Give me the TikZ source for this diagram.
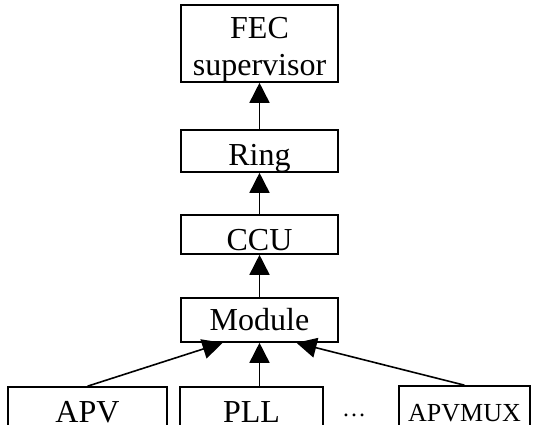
\documentclass[tikz,border=0pt]{standalone}
\usepackage{fontspec}
\setmainfont{Liberation Serif}
\usetikzlibrary{arrows.meta}

\begin{document}
\begin{tikzpicture}[x=1pt, y=-1pt,
    box/.style={draw=black, line width=1.6pt, inner sep=0pt, text depth=0pt, font=\fontsize{32}{33}\selectfont},
    up/.style={-{Triangle[length=20pt, width=20pt]}, line width=1.6pt}]
    \useasboundingbox (0, 0) rectangle (535, 425);
    \clip (0, 0) rectangle (535, 425);

    %Nodes
    \node[box, align=center, text depth=, minimum width=157pt, minimum height=77pt] at (259.5, 43.5) (fec) {\rule{0pt}{33pt}FEC\\[4pt]supervisor};
    \node[box, text height=28pt, minimum width=157pt, minimum height=42pt] at (259.5, 151) (ring) {Ring};
    \node[box, text height=31pt, minimum width=157pt, minimum height=39pt] at (259.5, 234.5) (ccu) {CCU};
    \node[box, text height=20pt, minimum width=157pt, minimum height=44pt] at (259.5, 320) (module) {Module};
    \node[box, text height=22pt, minimum width=159pt, minimum height=48pt] at (87.5, 411) (apv) {APV};
    \node[box, text height=22pt, minimum width=143pt, minimum height=48pt] at (251.5, 411) (pll) {PLL};
    \node[box, text height=21pt, minimum width=131pt, minimum height=50pt, font=\fontsize{26}{27}\selectfont] at (464.5, 411) (apvmux) {APVMUX};
    \node[font=\fontsize{24}{25}\selectfont, inner sep=0pt, anchor=base] at (354, 416) (dots) {…};

    %Lines
    \draw[up] (ring) -- (fec);
    \draw[up] (ccu) -- (ring);
    \draw[up] (module) -- (ccu);
    \draw[up] (apv.north) -- ([xshift=-37pt]module.south);
    \draw[up] (pll.north -| module.south) -- (module.south);
    \draw[up] (apvmux.north) -- ([xshift=37pt]module.south);

\end{tikzpicture}
\end{document}
